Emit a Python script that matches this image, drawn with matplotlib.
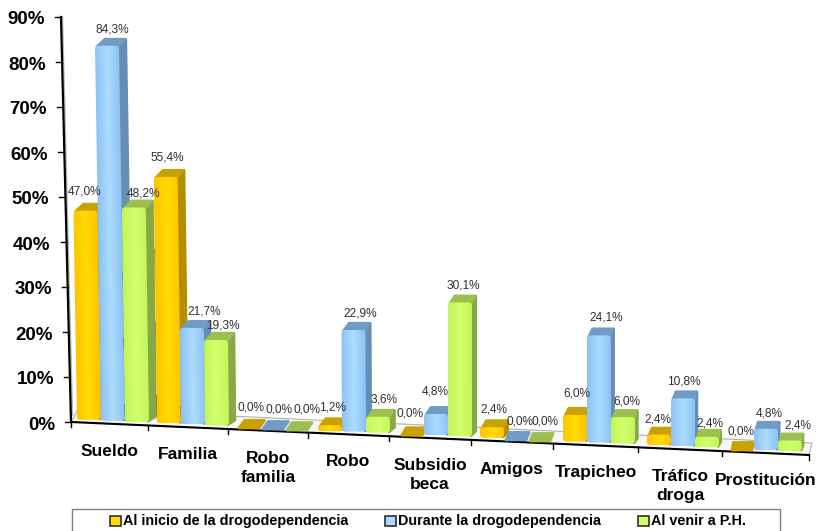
import numpy as np
import matplotlib
matplotlib.use("Agg")
import matplotlib.pyplot as plt
from matplotlib.patches import FancyBboxPatch, Polygon, Rectangle
from matplotlib.transforms import Affine2D

plt.rcParams['font.family'] = ['Liberation Sans', 'DejaVu Sans']

categories = ["Sueldo", "Familia", "Robo\nfamilia", "Robo", "Subsidio\nbeca", "Amigos",
              "Trapicheo", "Tráfico\ndroga", "Prostitución"]
series_names = ["Al inicio de la drogodependencia", "Durante la drogodependencia", "Al venir a P.H."]
inicio = [47.0, 55.4, 0.0, 1.2, 0.0, 2.4, 6.0, 2.4, 0.0]
durante = [84.3, 21.7, 0.0, 22.9, 4.8, 0.0, 24.1, 10.8, 4.8]
venir = [48.2, 19.3, 0.0, 3.6, 30.1, 0.0, 6.0, 2.4, 2.4]
y_ticks = [0, 10, 20, 30, 40, 50, 60, 70, 80, 90]

# layout of the fake 3d chart, in pixels
edges = [71, 148, 228, 308, 389, 471, 553, 638, 722, 809]
bar_start = [77, 157, 237, 318, 400, 480, 563, 647, 730]
bar_step = 24
bar_w = 24
depth_y = 7.5
px_per_pct = 4.45
label_xy = [[(85, 191), (112, 30), (144, 194)],
            [(167, 157), (204, 311), (223, 325)],
            [(251, 408), (279, 409), (307, 410)],
            [(333, 408), (360, 313), (384, 399)],
            [(410, 413), (435, 391), (463, 285)],
            [(494, 409), (520, 421), (545, 422)],
            [(577, 393), (606, 318), (627, 401)],
            [(658, 420), (684, 382), (710, 423)],
            [(741, 431), (769, 413), (798, 425)]]

# (edge of front, middle of front, top face, side face)
styles = [("#FFC400", "#FFDC00", "#C9A100", "#B28E00"),
          ("#8CC3F5", "#ADDCFF", "#6F9BC6", "#668EB4"),
          ("#C4F55A", "#D2FF6E", "#9CC050", "#86A845")]
legend_x = [(110, 123), (385, 398), (638, 651)]


def base_y(x):
    return 422 + (x - 71) * 33 / 738


def axis_x(v):
    return 71 - 10 * v / 90


def side_w(x):
    # sides get thinner to the right, like the real perspective
    return 8 - 6 * (x - 70) / 700


def lean(x):
    # bars on the left lean with the y axis
    return max(0.016 * (1 - (x - 100) / 350), 0)


def pct(v):
    return f"{v:.1f}%".replace(".", ",")


def draw_bar(ax, x, v, st, z):
    y0 = base_y(x + bar_w / 2) - 3
    top = y0 - v * px_per_pct
    d = side_w(x)
    if v == 0:
        ax.add_patch(Polygon([(x + 2, y0 + 1), (x + bar_w - 2, y0 + 1), (x + bar_w + d - 3, y0 - depth_y + 1),
                              (x + d + 1, y0 - depth_y + 1)], fc=st[2], ec=st[2], lw=2,
                             joinstyle="round", zorder=z))
        return
    k = lean(x)
    shift = k * (top - y0)
    # side
    ax.add_patch(Polygon([(x + bar_w - 1 + shift, top), (x + bar_w + d - 1 + shift, top - depth_y + 1),
                          (x + bar_w + d - 1, y0 - depth_y + 2), (x + bar_w - 1, y0 - 1)],
                         fc=st[3], ec=st[3], lw=2, joinstyle="round", zorder=z))
    # top
    ax.add_patch(Polygon([(x + 2 + shift, top + 1), (x + bar_w - 1 + shift, top + 1),
                          (x + bar_w + d - 2 + shift, top - depth_y + 1), (x + d + 2 + shift, top - depth_y + 1)],
                         fc=st[2], ec=st[2], lw=2, joinstyle="round", zorder=z + 0.1))
    # front with horizontal gradient, sheared by the lean
    shear = Affine2D.from_values(1, 0, k, 1, -k * y0, 0) + ax.transData
    c0 = np.array(matplotlib.colors.to_rgb(st[0]))
    c1 = np.array(matplotlib.colors.to_rgb(st[1]))
    t = np.abs(np.linspace(-1, 1, 24))[None, :, None]
    im = ax.imshow(c1 * (1 - t) + c0 * t, extent=(x, x + bar_w, y0, top), aspect="auto",
                   interpolation="bilinear", zorder=z + 0.2)
    im.set_transform(shear)
    clip = FancyBboxPatch((x + 3, top + 3), bar_w - 6, max(y0 - top - 6, 0.5),
                          boxstyle="round,pad=3,rounding_size=3.5",
                          transform=shear, fc="none", ec="none")
    ax.add_patch(clip)
    im.set_clip_path(clip)


fig = plt.figure(figsize=(8.17, 5.31), dpi=100)
ax = fig.add_axes([0, 0, 1, 1])

# floor and walls
ax.add_patch(Polygon([(71, 422), (78, 409), (812, 443), (809, 455)], fc="#F6F6F6", ec="#B0B0B0", lw=0.8, zorder=1))
ax.plot([62.5, 72.5], [17, 415], color="#B5B5B5", lw=1, zorder=1)

# axes lines and ticks
ax.plot([axis_x(90), axis_x(0)], [17, 422], color="black", lw=1.6, zorder=2)
ax.plot([71, 809], [422, 455], color="black", lw=1.5, zorder=2)
for v in y_ticks:
    yy = 422 - v * 4.5
    ax.plot([axis_x(v) - 6, axis_x(v)], [yy, yy], color="black", lw=1, zorder=2)
    ax.text(axis_x(v) - 16, yy + 3, f"{v}%", ha="right", va="center", fontsize=13.5,
            fontweight="bold", color="black")
for e in edges:
    ax.plot([e, e], [base_y(e), base_y(e) + 5], color="black", lw=1, zorder=2)

# bars
series = [inicio, durante, venir]
for c in range(len(categories)):
    for k in range(3):
        x = bar_start[c] + k * bar_step
        draw_bar(ax, x, series[k][c], styles[k], 3 + c + k * 0.3)
        lx, ly = label_xy[c][k]
        ax.text(lx, ly, pct(series[k][c]), ha="center", va="center", fontsize=8.6, color="#303030", zorder=20)
    mid = (edges[c] + edges[c + 1]) / 2
    ax.text(mid, base_y(mid) + 20, categories[c], ha="center", va="top", fontsize=12.5,
            fontweight="bold", color="black", linespacing=1.32, zorder=20)

# legend, cut by the bottom of the picture
ax.add_patch(Rectangle((72, 509), 708, 30, fc="white", ec="#808080", lw=1, zorder=21))
for k, name in enumerate(series_names):
    x0, x1 = legend_x[k]
    ax.add_patch(Rectangle((x0, 516), x1 - x0 - 2, 10, fc=styles[k][1], ec="#303030", lw=1.2, zorder=22))
    ax.text(x1, 521, name, ha="left", va="center", fontsize=10.4, fontweight="bold", color="black", zorder=22)

ax.set_xlim(0, 817)
ax.set_ylim(531, 0)
ax.axis("off")
fig.savefig("out.png", dpi=100)
